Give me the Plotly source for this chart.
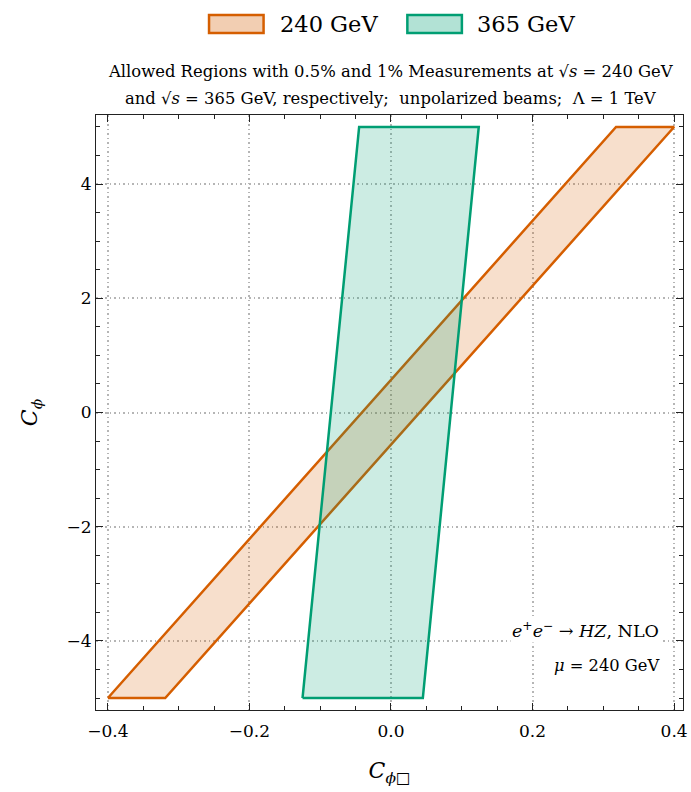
import plotly.graph_objects as go

# Data: polygon vertices of allowed regions
x240 = [-0.40, -0.319, 0.40, 0.318, -0.40]
y240 = [-5.0, -5.0, 5.0, 5.0, -5.0]
x365 = [-0.125, 0.045, 0.124, -0.045, -0.125]
y365 = [-5.0, -5.0, 5.0, 5.0, -5.0]
labels = ["240 GeV", "365 GeV"]
xticks = [-0.4, -0.2, 0.0, 0.2, 0.4]
yticks = [-4, -2, 0, 2, 4]

ORANGE = "#D55E00"
GREEN = "#009E73"
FONT = "DejaVu Serif"

fig = go.Figure()
fig.add_trace(go.Scatter(x=x240, y=y240, mode="lines", fill="toself",
                         fillcolor="rgba(213,94,0,0.2)",
                         line=dict(color=ORANGE, width=2.5), name=labels[0],
                         showlegend=False, hoverinfo="skip"))
fig.add_trace(go.Scatter(x=x365, y=y365, mode="lines", fill="toself",
                         fillcolor="rgba(0,158,115,0.2)",
                         line=dict(color=GREEN, width=2.5), name=labels[1],
                         showlegend=False, hoverinfo="skip"))

L, R, T, B = 96, 3, 115, 82
W, H = 691, 792
pw, ph = W - L - R, H - T - B

def px(x):
    return (x - L) / pw

def py(y):
    return (H - B - y) / ph

shapes = []
annotations = []
# manual legend
for (x0, x1, tx, col, fc, lab) in [
    (210, 265, 280, ORANGE, "rgba(213,94,0,0.3)", labels[0]),
    (410, 465, 478, GREEN, "rgba(0,158,115,0.3)", labels[1]),
]:
    shapes.append(dict(type="rect", xref="paper", yref="paper",
                       x0=px(x0), x1=px(x1), y0=py(33), y1=py(15),
                       line=dict(color=col, width=2.5), fillcolor=fc))
    annotations.append(dict(xref="paper", yref="paper", x=px(tx), y=py(24),
                            xanchor="left", yanchor="middle", showarrow=False,
                            text=lab, font=dict(family=FONT, size=22.5, color="black")))

annotations.append(dict(xref="paper", yref="paper", x=px(394), y=py(71),
                        xanchor="center", yanchor="middle", showarrow=False,
                        text="Allowed Regions with 0.5% and 1% Measurements at √<i>s</i> = 240 GeV",
                        font=dict(family=FONT, size=16.4, color="black")))
annotations.append(dict(xref="paper", yref="paper", x=px(394), y=py(98),
                        xanchor="center", yanchor="middle", showarrow=False,
                        text="and √<i>s</i> = 365 GeV, respectively;  unpolarized beams;  Λ = 1 TeV",
                        font=dict(family=FONT, size=16.4, color="black")))
annotations.append(dict(xref="paper", yref="paper", x=px(666), y=py(630),
                        xanchor="right", yanchor="middle", showarrow=False,
                        text="<i>e</i><sup>+</sup><i>e</i><sup>−</sup> → <i>HZ</i>, NLO",
                        bgcolor="white",
                        font=dict(family=FONT, size=17.5, color="black")))
annotations.append(dict(xref="paper", yref="paper", x=px(666), y=py(665),
                        xanchor="right", yanchor="middle", showarrow=False,
                        text="<i>μ</i> = 240 GeV", bgcolor="white",
                        font=dict(family=FONT, size=16.3, color="black")))

axis_common = dict(showline=True, linecolor="#222", linewidth=1, mirror="allticks",
                   ticks="inside", ticklen=7, tickwidth=1, tickcolor="#222",
                   showgrid=True, gridcolor="#b5b5b5", griddash="1.5px,3px", gridwidth=1.5,
                   zeroline=False, ticklabeloverflow="allow",
                   tickfont=dict(family=FONT, size=17, color="black"))

fig.update_layout(
    width=W, height=H,
    margin=dict(l=L, r=R, t=T, b=B),
    plot_bgcolor="white", paper_bgcolor="white",
    shapes=shapes, annotations=annotations,
    xaxis=dict(range=[-0.4168, 0.4126], tickvals=xticks,
               ticktext=["−0.4", "−0.2", "0.0", "0.2", "0.4"],
               ticklabelstandoff=6,
               minor=dict(ticks="inside", ticklen=4, dtick=0.05, tickcolor="#222", showgrid=False),
               title=dict(text="<i>C</i><sub><i>ϕ</i>□</sub>", font=dict(family=FONT, size=22, color="black"), standoff=22),
               **axis_common),
    yaxis=dict(range=[-5.21, 5.21], tickvals=yticks,
               ticktext=["−4", "−2", "0", "2", "4"],
               minor=dict(ticks="inside", ticklen=4, dtick=0.5, tickcolor="#222", showgrid=False),
               title=dict(text="<i>C</i><sub><i>ϕ</i></sub>", font=dict(family=FONT, size=22, color="black"), standoff=22),
               **axis_common),
    showlegend=False,
)

fig.write_html("out.html", config={"displayModeBar": False},
               post_script="document.body.style.margin='0';document.body.style.overflow='hidden';")
